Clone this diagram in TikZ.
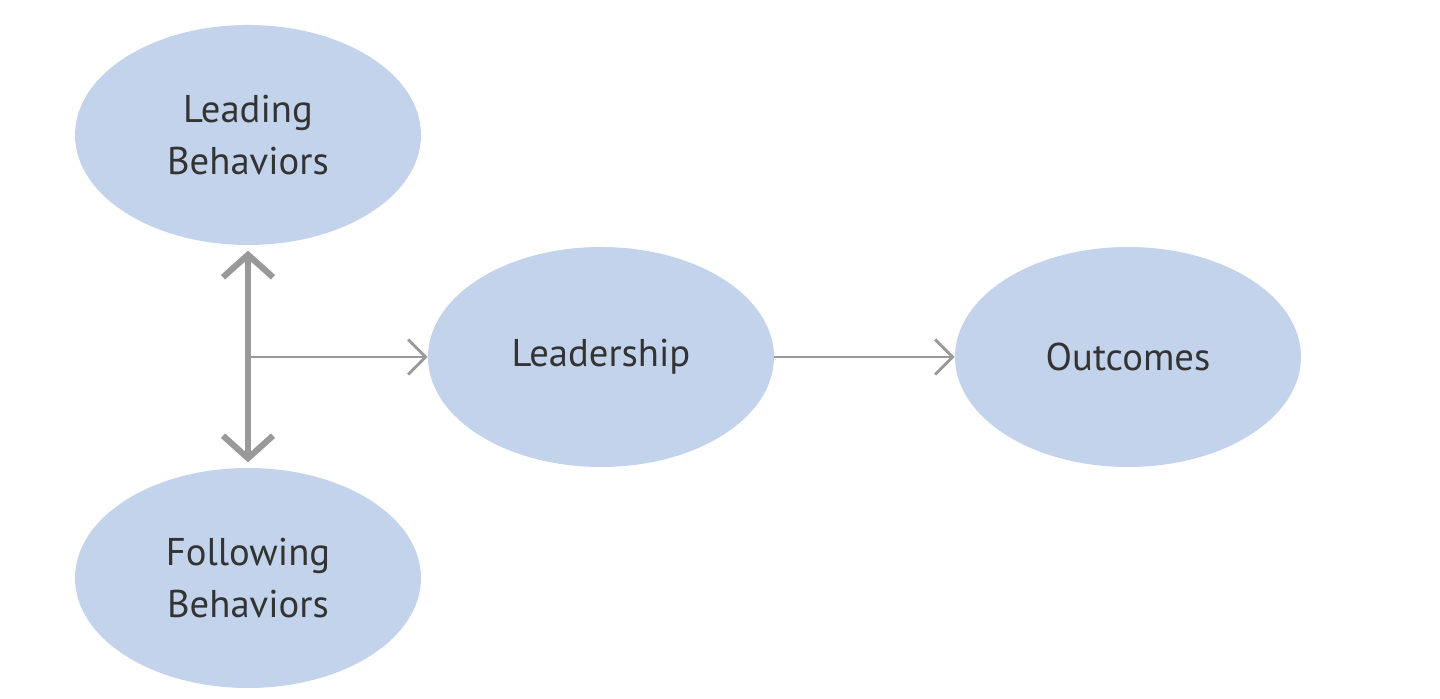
\documentclass[tikz,border=0pt]{standalone}
\usepackage{fontspec}
\setmainfont{PT Sans}
\usetikzlibrary{arrows.meta, shapes.geometric}
\definecolor{blobblue}{HTML}{C3D3EB}
\definecolor{linegray}{HTML}{999999}
\definecolor{textgray}{HTML}{333333}

\begin{document}
\begin{tikzpicture}
[bubble/.style={ellipse, fill=blobblue, minimum width=6.92cm, minimum height=4.4cm, inner sep=0pt, align=center, text=textgray, font=\fontsize{22}{30}\selectfont}, link/.style={draw=linegray, line width=1.6pt, -{Straight Barb[length=3.5mm, width=7mm]}}, double link/.style={draw=linegray, line width=3.5pt, {Straight Barb[length=4.5mm, width=10mm]}-{Straight Barb[length=4.5mm, width=10mm]}}]
    \useasboundingbox (0,0) rectangle (28.8,13.98);
    \node[bubble] (leading) at (4.96,11.28) {Leading\\Behaviors};
    \node[bubble] (following) at (4.96,2.42) {Following\\Behaviors};
    \node[bubble] (leadership) at (12.02,6.84) {Leadership};
    \node[bubble] (outcomes) at (22.56,6.84) {Outcomes};
    \coordinate (junction) at (leading.south |- leadership.west);
    \draw[double link, shorten <=3pt, shorten >=3pt] (leading.south) -- (following.north);
    \draw[link] (junction) -- (leadership.west);
    \draw[link] (leadership.east) -- (outcomes.west);
\end{tikzpicture}
\end{document}
